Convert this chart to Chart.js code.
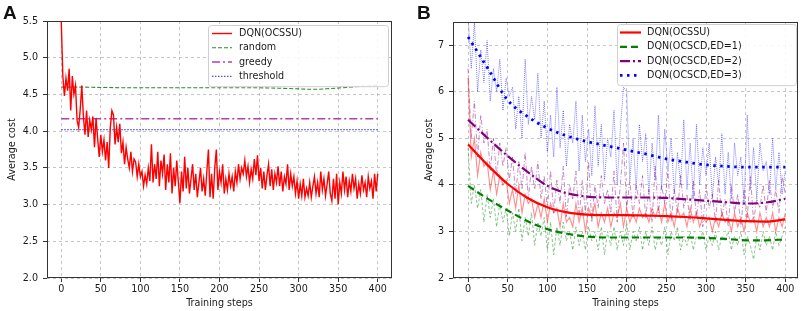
<!DOCTYPE html>
<html lang="en">
<head>
  <meta charset="UTF-8">
  <title>Average cost vs training steps</title>
  <style>
    body { margin: 0; background: #fff; }
    .wrap { position: relative; width: 803px; height: 311px; }
    canvas { position: absolute; top: 0; }
    #chartA { left: 0; }
    #chartB { left: 400px; }
  </style>
  <script src="https://cdn.jsdelivr.net/npm/chart.js"></script>
</head>
<body>
  <div class="wrap">
    <canvas id="chartA" width="400" height="311"></canvas>
    <canvas id="chartB" width="403" height="311"></canvas>
  </div>

  <script>
    // ---- panel A data (DQN sampled every 2 steps) ----
    const stepsA = [];
    for (let s = 0; s <= 400; s += 2) stepsA.push(s);
    const ocssuA = [
      5.5, 4.75, 4.48, 4.72, 4.55, 4.85, 4.28, 4.75, 4.5, 4.62,
      4.15, 4.05, 4.3, 4.62, 4.2, 3.95, 4.28, 3.92, 4.15, 4.02,
      4.2, 3.78, 4.18, 3.9, 3.65, 3.95, 3.72, 3.88, 3.6, 3.85,
      3.5, 4.05, 4.28, 4.22, 3.82, 4.05, 3.85, 4.1, 3.7, 3.85,
      3.55, 3.78, 3.62, 3.5, 3.72, 3.45, 3.62, 3.58, 3.38, 3.55,
      3.38, 3.45, 3.25, 3.4, 3.28, 3.5, 3.32, 3.82, 3.3, 3.55,
      3.35, 3.72, 3.25, 3.6, 3.42, 3.68, 3.2, 3.55, 3.3, 3.7,
      3.15, 3.5, 3.25, 3.6, 3.3, 3.02, 3.45, 3.18, 3.65, 3.22,
      3.5, 3.15, 3.35, 3.55, 3.2, 3.42, 3.1, 3.3, 3.5, 3.18,
      3.35, 3.12, 3.45, 3.75, 3.1, 3.42, 3.08, 3.5, 3.75, 3.2,
      3.45, 3.3, 3.55, 3.15, 3.35, 3.2, 3.42, 3.25, 3.38, 3.18,
      3.45, 3.3, 3.55, 3.35, 3.5, 3.42, 3.6, 3.38, 3.52, 3.3,
      3.48, 3.35, 3.62, 3.4, 3.67, 3.32, 3.5, 3.22, 3.45, 3.2,
      3.4, 3.55, 3.25, 3.48, 3.2, 3.42, 3.3, 3.52, 3.25, 3.45,
      3.18, 3.38, 3.28, 3.55, 3.2, 3.42, 3.25, 3.38, 3.15, 3.32,
      3.08, 3.28, 3.12, 3.35, 3.1, 3.22, 3.12, 3.3, 3.1, 3.25,
      3.38, 3.15, 3.3, 3.1, 3.45, 3.2, 3.35, 3.12, 3.28, 3.45,
      3.15, 3.05, 3.35, 3.08, 3.42, 3.0, 3.3, 3.15, 3.45, 3.2,
      3.38, 3.1, 3.32, 3.18, 3.42, 3.22, 3.35, 3.08, 3.28, 3.15,
      3.4, 3.2, 3.3, 3.1, 3.38, 3.22, 3.32, 3.08, 3.42, 3.18,
      3.42
    ];
    const baselineStepsA = [0, 25, 50, 100, 150, 200, 250, 275, 300, 320, 340, 360, 380, 400];
    const randomA = [4.60, 4.60, 4.595, 4.59, 4.59, 4.59, 4.59, 4.585, 4.575, 4.57, 4.58, 4.595, 4.61, 4.625];
    const flatStepsA = [0, 400];
    const greedyA = [4.17, 4.17];
    const thresholdA = [4.02, 4.02];

    // ---- panel B data (raw curves sampled every 4 steps) ----
    const stepsB = [];
    for (let s = 0; s <= 400; s += 4) stepsB.push(s);
    const ocssuRawB = [
      6.3, 4.6, 5.0, 4.2, 4.7, 4.4, 4.5, 3.9, 4.3, 3.8,
      4.2, 4.0, 4.1, 3.6, 3.9, 3.5, 4.0, 3.4, 3.8, 3.6,
      3.7, 3.3, 3.6, 3.3, 3.7, 3.2, 3.6, 3.4, 3.5, 3.1,
      3.6, 3.2, 3.3, 3.1, 3.6, 3.2, 3.5, 3.0, 3.5, 3.3,
      3.6, 3.1, 3.4, 3.2, 3.5, 3.1, 3.4, 3.3, 3.6, 3.1,
      3.5, 3.2, 3.4, 3.2, 3.5, 3.3, 3.4, 3.2, 3.5, 3.3,
      3.5, 3.2, 3.6, 3.2, 3.4, 3.1, 3.5, 3.3, 3.4, 3.1,
      3.5, 3.2, 3.4, 3.1, 3.3, 3.2, 3.3, 3.0, 3.3, 3.1,
      3.4, 3.2, 3.3, 3.0, 3.4, 3.1, 3.3, 3.0, 3.4, 3.2,
      3.3, 3.0, 3.4, 3.1, 3.3, 3.1, 3.4, 3.0, 3.3, 3.1,
      3.4
    ];
    const ed1RawB = [
      4.8, 3.6, 4.0, 3.5, 3.9, 3.2, 3.8, 3.3, 3.7, 3.1,
      3.6, 3.2, 3.5, 2.9, 3.4, 3.0, 3.5, 2.8, 3.3, 2.9,
      3.4, 2.7, 3.2, 2.9, 3.3, 2.6, 3.2, 2.5, 3.1, 2.7,
      3.2, 2.8, 3.0, 2.6, 3.1, 2.7, 3.0, 2.6, 3.1, 2.8,
      3.0, 2.6, 3.1, 2.5, 3.0, 2.7, 3.1, 2.6, 3.0, 2.7,
      3.2, 2.6, 3.0, 2.8, 3.1, 2.6, 3.0, 2.7, 3.1, 2.6,
      2.9, 2.7, 3.1, 2.5, 3.0, 2.8, 3.1, 2.6, 2.9, 2.7,
      3.0, 2.6, 2.9, 2.8, 3.0, 2.6, 2.9, 2.7, 3.0, 2.6,
      2.9, 2.8, 3.0, 2.6, 2.9, 2.7, 3.0, 2.5, 2.9, 2.7,
      2.4, 2.9, 2.6, 3.0, 2.7, 2.9, 2.6, 3.0, 2.7, 2.9,
      3.1
    ];
    const ed2RawB = [
      6.5, 5.0, 5.8, 4.6, 5.5, 4.9, 5.2, 4.3, 5.0, 4.2,
      4.9, 4.4, 4.8, 4.1, 4.6, 3.8, 4.5, 3.9, 4.7, 3.7,
      4.4, 3.9, 4.5, 3.7, 4.2, 3.5, 4.3, 3.4, 4.1, 3.6,
      4.4, 3.3, 4.0, 3.7, 4.3, 3.3, 4.1, 3.4, 4.5, 3.2,
      4.0, 3.5, 4.2, 3.6, 3.9, 3.4, 4.3, 3.2, 4.0, 4.9,
      3.5, 4.1, 3.3, 4.0, 3.6, 4.2, 3.3, 3.9, 3.2, 4.4,
      3.4, 4.0, 3.6, 4.3, 3.2, 3.9, 3.4, 4.2, 3.5, 3.8,
      3.2, 4.1, 3.3, 3.9, 3.1, 4.0, 3.5, 3.8, 3.2, 4.1,
      3.3, 3.7, 3.1, 4.0, 3.4, 3.8, 3.1, 3.9, 3.3, 4.2,
      3.2, 3.7, 3.5, 4.0, 3.4, 4.1, 3.5, 3.9, 3.4, 4.2,
      3.8
    ];
    const ed3RawB = [
      7.6, 6.5, 7.5, 6.0, 6.9, 6.2, 7.1, 5.8, 6.5, 6.0,
      6.7, 5.6, 6.3, 5.9, 6.1, 5.2, 5.9, 5.0, 6.7, 5.3,
      5.9, 5.4, 6.4, 5.0, 5.8, 4.7, 5.5, 4.6, 6.1, 4.8,
      5.6, 4.4, 5.3, 4.9, 5.8, 4.3, 5.5, 4.5, 5.2, 4.2,
      5.7, 4.4, 5.3, 4.1, 5.0, 4.6, 5.6, 4.0, 5.2, 6.1,
      6.0, 4.1, 5.0, 3.9, 5.3, 4.5, 5.1, 3.8, 4.9, 4.1,
      5.5, 3.9, 5.2, 4.3, 5.0, 3.8, 4.7, 4.0, 5.4, 3.9,
      4.9, 3.7, 5.3, 4.0, 4.8, 4.2, 4.9, 3.7, 4.6, 4.0,
      5.1, 3.8, 4.7, 3.7, 4.9, 4.2, 4.6, 3.6, 5.5, 3.9,
      4.8, 3.7, 4.9, 4.3, 4.5, 3.8, 5.0, 3.9, 4.7, 3.8,
      4.3
    ];
    const smoothStepsB = [0, 25, 50, 75, 100, 125, 150, 175, 200, 225, 250, 275, 300, 325, 350, 375, 400];
    const ocssuSmoothB = [4.87, 4.42, 4.02, 3.72, 3.52, 3.41, 3.36, 3.35, 3.35, 3.34, 3.33, 3.31, 3.28, 3.25, 3.22, 3.21, 3.26];
    const ed1SmoothB = [3.98, 3.70, 3.45, 3.22, 3.05, 2.95, 2.89, 2.87, 2.87, 2.87, 2.87, 2.87, 2.86, 2.84, 2.81, 2.81, 2.83];
    const ed2SmoothB = [5.40, 5.00, 4.62, 4.28, 3.98, 3.82, 3.75, 3.73, 3.73, 3.73, 3.72, 3.69, 3.66, 3.63, 3.60, 3.62, 3.70];
    const ed3SmoothB = [7.18, 6.50, 5.82, 5.47, 5.22, 5.05, 4.93, 4.84, 4.75, 4.66, 4.56, 4.49, 4.43, 4.40, 4.38, 4.38, 4.38];

    const pts = (xs, ys) => xs.map((x, i) => ({ x: x, y: ys[i] }));
    const FONT = '"DejaVu Sans", sans-serif';
    const TXT = '#1a1a1a';

    // frame, inset legend and panel letter
    const insetLegend = {
      id: 'insetLegend',
      afterDraw(chart, args, opts) {
        const { ctx, chartArea: a } = chart;
        ctx.save();
        ctx.strokeStyle = '#333';
        ctx.lineWidth = 1;
        ctx.strokeRect(a.left + 0.5, a.top + 0.5, a.right - a.left - 1, a.bottom - a.top - 1);

        const items = chart.data.datasets.filter(d => d.label);
        const right = a.right - opts.inset;
        const left = right - opts.width;
        const top = a.top + opts.top;
        const rowH = 14.3;
        const h = items.length * rowH + 4;
        ctx.beginPath();
        ctx.roundRect(left + 0.5, top + 0.5, opts.width, h, 3);
        ctx.fillStyle = 'rgba(255,255,255,0.85)';
        ctx.fill();
        ctx.strokeStyle = '#d0d0d0';
        ctx.stroke();

        ctx.font = '9.6px ' + FONT;
        ctx.textBaseline = 'middle';
        items.forEach((d, i) => {
          const y = top + 8.5 + i * rowH;
          ctx.beginPath();
          ctx.setLineDash(d.borderDash || []);
          ctx.strokeStyle = d.borderColor;
          ctx.lineWidth = d.borderWidth;
          ctx.moveTo(left + opts.handle[0], y);
          ctx.lineTo(left + opts.handle[1], y);
          ctx.stroke();
          ctx.setLineDash([]);
          ctx.fillStyle = TXT;
          ctx.fillText(d.label, left + opts.textX, y);
        });

        ctx.font = 'bold 19px "Liberation Sans", Arial, sans-serif';
        ctx.fillStyle = '#111';
        ctx.textBaseline = 'alphabetic';
        ctx.fillText(opts.tag, opts.tagX, 18.5);
        ctx.restore();
      }
    };

    function makeScales(cfg) {
      const tickFont = { family: FONT, size: 9.6 };
      return {
        x: {
          type: 'linear', min: cfg.xMin, max: cfg.xMax,
          afterFit: s => { s.height = 33; },
          afterBuildTicks: s => { s.ticks = s.ticks.filter(t => t.value >= 0 && t.value <= 400 && t.value % 50 === 0); },
          ticks: { stepSize: 50, includeBounds: false, autoSkip: false, maxRotation: 0, padding: 2, color: TXT, font: tickFont },
          grid: { color: '#b8b8b8', lineWidth: 0.8, tickLength: 4, tickColor: '#333', tickWidth: 1 },
          border: { display: false, dash: [3, 3] },
          title: { display: true, text: 'Training steps', color: TXT, font: tickFont, padding: { top: 0, bottom: 2 } }
        },
        y: {
          min: cfg.yMin, max: cfg.yMax,
          afterFit: s => { s.width = cfg.yWidth; },
          ticks: { stepSize: cfg.yStep, includeBounds: false, autoSkip: false, padding: 5, color: TXT, font: tickFont,
                   callback: v => cfg.yDigits ? Number(v).toFixed(cfg.yDigits) : String(v) },
          grid: { color: '#b8b8b8', lineWidth: 0.8, tickLength: 4, tickColor: '#333', tickWidth: 1 },
          border: { display: false, dash: [3, 3] },
          title: { display: true, text: 'Average cost', color: TXT, font: tickFont, padding: { top: cfg.titlePad, bottom: 0 } }
        }
      };
    }

    const common = {
      responsive: false,
      animation: false,
      elements: { point: { radius: 0 }, line: { tension: 0 } },
      plugins: { legend: { display: false }, tooltip: { enabled: false } }
    };

    // Panel A
    new Chart(document.getElementById('chartA'), {
      type: 'line',
      data: {
        datasets: [
          { label: 'DQN(OCSSU)', data: pts(stepsA, ocssuA), borderColor: '#ff0000', borderWidth: 1.4 },
          { label: 'random', data: pts(baselineStepsA, randomA), borderColor: '#2e8b2e', borderWidth: 1.1,
            borderDash: [4, 2], cubicInterpolationMode: 'monotone' },
          { label: 'greedy', data: pts(flatStepsA, greedyA), borderColor: '#b040b0', borderWidth: 1.5, borderDash: [8, 3, 2, 3] },
          { label: 'threshold', data: pts(flatStepsA, thresholdA), borderColor: '#5050ff', borderWidth: 1.2, borderDash: [1.5, 1.5] }
        ]
      },
      options: Object.assign({}, common, {
        layout: { padding: { left: 0, top: 21, right: 8, bottom: 0 } },
        scales: makeScales({ xMin: -18, xMax: 418, yMin: 2, yMax: 5.5, yStep: 0.5, yDigits: 1, yWidth: 47, titlePad: 7 }),
        plugins: Object.assign({}, common.plugins, {
          insetLegend: { inset: 4, top: 4, width: 180, handle: [4, 24], textX: 31, tag: 'A', tagX: 3 }
        })
      }),
      plugins: [insetLegend]
    });

    // Panel B
    new Chart(document.getElementById('chartB'), {
      type: 'line',
      data: {
        datasets: [
          { label: 'DQN(OCSSU)', data: pts(smoothStepsB, ocssuSmoothB), borderColor: '#ff0000', borderWidth: 2.2,
            cubicInterpolationMode: 'monotone', order: 0 },
          { label: 'DQN(OCSCD,ED=1)', data: pts(smoothStepsB, ed1SmoothB), borderColor: '#008000', borderWidth: 2.2,
            borderDash: [7, 4], cubicInterpolationMode: 'monotone', order: 0 },
          { label: 'DQN(OCSCD,ED=2)', data: pts(smoothStepsB, ed2SmoothB), borderColor: '#800080', borderWidth: 2.2,
            borderDash: [10, 3, 2, 3], cubicInterpolationMode: 'monotone', order: 0 },
          { label: 'DQN(OCSCD,ED=3)', data: pts(smoothStepsB, ed3SmoothB), borderColor: '#0000ff', borderWidth: 2.8,
            borderDash: [2.5, 4.5], cubicInterpolationMode: 'monotone', order: 0 },
          { data: pts(stepsB, ocssuRawB), borderColor: 'rgba(255,0,0,0.45)', borderWidth: 1.1, order: 1 },
          { data: pts(stepsB, ed1RawB), borderColor: 'rgba(0,128,0,0.45)', borderWidth: 1, borderDash: [3, 2], order: 1 },
          { data: pts(stepsB, ed2RawB), borderColor: 'rgba(128,0,128,0.45)', borderWidth: 1, borderDash: [5, 2, 1, 2], order: 1 },
          { data: pts(stepsB, ed3RawB), borderColor: 'rgba(0,0,255,0.5)', borderWidth: 1, borderDash: [1, 1], order: 1 }
        ]
      },
      options: Object.assign({}, common, {
        layout: { padding: { left: 0, top: 22, right: 5, bottom: 0 } },
        scales: makeScales({ xMin: -19, xMax: 416, yMin: 2, yMax: 7.5, yStep: 1, yDigits: 0, yWidth: 53, titlePad: 24 }),
        plugins: Object.assign({}, common.plugins, {
          insetLegend: { inset: 2, top: 2, width: 179, handle: [3, 24], textX: 30, tag: 'B', tagX: 17 }
        })
      }),
      plugins: [insetLegend]
    });
  </script>
</body>
</html>
